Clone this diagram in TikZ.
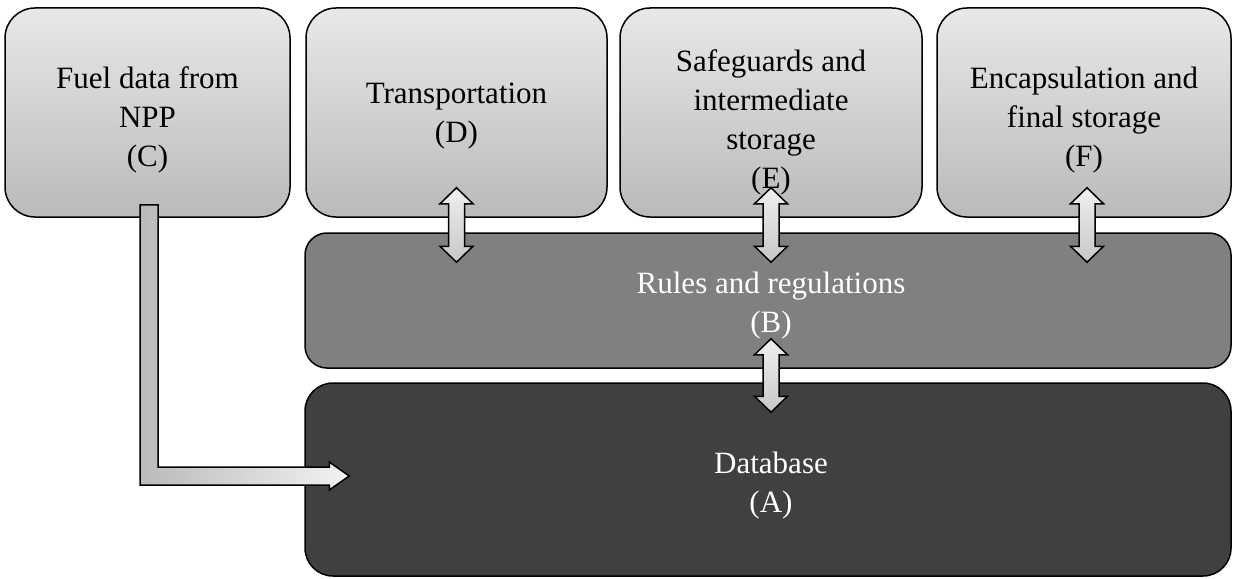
\documentclass[tikz,border=0pt]{standalone}
\usepackage{fontspec}
\setmainfont{Liberation Serif}
\usetikzlibrary{calc}
\newcommand\myudarrow[3]{%
  \draw[dbl] let \p1=(#1), \p2=(#2.south), \p3=(#3.north) in
    (\x1,\y2+30pt) -- (\x1+16.5pt,\y2+14pt) -- (\x1+8pt,\y2+14pt)
    -- (\x1+8pt,\y3-14pt) -- (\x1+16.5pt,\y3-14pt) -- (\x1,\y3-30pt)
    -- (\x1-16.5pt,\y3-14pt) -- (\x1-8pt,\y3-14pt) -- (\x1-8pt,\y2+14pt)
    -- (\x1-16.5pt,\y2+14pt) -- cycle;}
\begin{document}
\begin{tikzpicture}[x=1pt,y=-1pt,
  topbox/.style={draw=black, line width=1.5pt, rounded corners=30pt,
    top color=black!9, bottom color=black!27, inner sep=0pt},
  rulebox/.style={draw=black, line width=1.5pt, rounded corners=22pt,
    fill=black!50, inner sep=0pt},
  databox/.style={draw=black, line width=1.5pt, rounded corners=28pt,
    fill=black!75, inner sep=0pt},
  txt/.style={align=center, inner sep=0pt, font=\fontsize{31}{39}\selectfont},
  wtxt/.style={txt, text=white},
  dbl/.style={draw=black, line width=1.5pt, line join=miter,
    top color=black!6, bottom color=black!22},
  larrow/.style={draw=black, line width=1.5pt, line join=miter,
    left color=black!27, right color=black!5}]
\useasboundingbox (0,0) rectangle (1233,578);

\node[topbox, minimum width=285pt, minimum height=209pt] (C) at (147.5,112.5) {};
\node[topbox, minimum width=301pt, minimum height=209pt] (D) at (456.5,112.5) {};
\node[topbox, minimum width=302pt, minimum height=209pt] (E) at (771,112.5) {};
\node[topbox, minimum width=294pt, minimum height=209pt] (F) at (1084,112.5) {};
\node[rulebox, minimum width=926pt, minimum height=135pt] (B) at (768,300.5) {};
\node[databox, minimum width=926pt, minimum height=193pt] (A) at (768,479.5) {};

\coordinate (k) at (C.south |- A.west);
\draw[larrow] ($(C.south)+(-7.5,-13)$) -- ($(C.south)+(10.5,-13)$)
  -- ($(k)+(10.5,-12.5)$) -- ($(A.west)+(25,-12.5)$) -- ($(A.west)+(25,-17.5)$)
  -- ($(A.west)+(45,-3.5)$) -- ($(A.west)+(25,10.5)$) -- ($(A.west)+(25,5.5)$)
  -- ($(k)+(-7.5,5.5)$) -- cycle;

\myudarrow{D.south}{D}{B}
\myudarrow{E.south}{E}{B}
\myudarrow{$(F.south)+(3,0)$}{F}{B}
\myudarrow{E.south}{B}{A}

\node[txt] (Ct) at (147.5,120) {Fuel data from\\NPP\\(C)};
\node[txt] (Dt) at (456.5,116) {Transportation\\(D)};
\node[txt] (Et) at (771,122) {Safeguards and\\intermediate\\storage\\(E)};
\node[txt] (Ft) at (1084,120) {Encapsulation and\\final storage\\(F)};
\node[wtxt] (Bt) at (771,305.5) {Rules and regulations\\(B)};
\node[wtxt] (At) at (771,486) {Database\\(A)};
\end{tikzpicture}
\end{document}
